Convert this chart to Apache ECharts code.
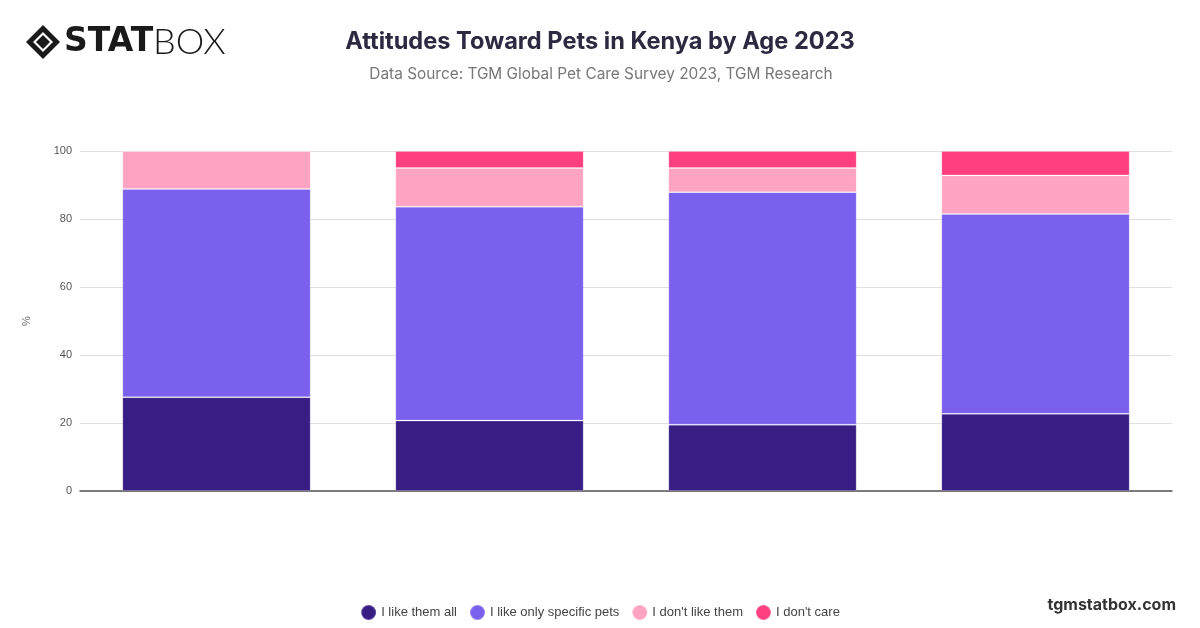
<!DOCTYPE html>
<html>
<head>
<meta charset="utf-8">
<script src="https://cdn.jsdelivr.net/npm/echarts@6/dist/echarts.min.js"></script>
<style>
html,body{margin:0;padding:0;background:#fff;}
#c{width:1200px;height:628px;}
</style>
</head>
<body>
<div id="c"></div>
<script>
const categories = ["18-24", "25-34", "35-44", "45+"];
const likeAll = [27.6, 20.7, 19.5, 22.7];
const likeSpecific = [61.2, 62.9, 68.4, 58.8];
const dontLike = [11.2, 11.4, 7.1, 11.3];
const dontCare = [0, 5.0, 5.0, 7.2];
const yTicks = [0, 20, 40, 60, 80, 100];

const seriesNames = ["I like them all", "I like only specific pets", "I don't like them", "I don't care"];
const colors = ["#381d85", "#7b5fed", "#ffa3c3", "#ff3f80"];
const seriesData = [likeAll, likeSpecific, dontLike, dontCare];

const chart = echarts.init(document.getElementById('c'));
chart.setOption({
  animation: false,
  color: colors,
  title: [
    {
      text: "Attitudes Toward Pets in Kenya by Age 2023",
      left: 595, top: 25, textAlign: 'center',
      textStyle: {fontFamily: 'Inter', fontSize: 23.6, fontWeight: 'bold', color: '#2c2941'}
    },
    {
      text: "Data Source: TGM Global Pet Care Survey 2023, TGM Research",
      left: 596, top: 62, textAlign: 'center',
      textStyle: {fontFamily: 'Inter', fontSize: 15.4, fontWeight: 'normal', color: '#777'}
    }
  ],
  graphic: [
    {
      type: 'group', left: 26, top: 24,
      children: [
        {type: 'polygon', shape: {points: [[17,0],[34,17],[17,34],[0,17]]}, style: {fill: '#1a1a1a'}},
        {type: 'polygon', shape: {points: [[17,7],[27,17],[17,27],[7,17]]}, style: {fill: '#fff'}},
        {type: 'polygon', shape: {points: [[17,10],[24,17],[17,24],[10,17]]}, style: {fill: '#1a1a1a'}},
        {type: 'text', left: 38, top: 1, style: {text: 'STAT', fontFamily: 'DejaVu Sans', fontWeight: 900, fontSize: 33, fill: '#1a1a1a'}},
        {type: 'text', left: 127, top: -1, style: {text: 'BOX', fontFamily: 'Lato', fontWeight: 300, fontSize: 36, fill: '#1a1a1a'}}
      ]
    },
    {
      type: 'text', right: 24, top: 597,
      style: {text: 'tgmstatbox.com', fontFamily: 'Inter', fontWeight: 'bold', fontSize: 16, fill: '#333'}
    }
  ],
  legend: {
    top: 599, left: 'center',
    icon: 'circle', itemWidth: 15, itemHeight: 15, itemGap: 12,
    textStyle: {fontFamily: 'Liberation Sans', fontSize: 13, color: '#444'},
    data: seriesNames
  },
  grid: {left: 80, right: 28, top: 151, bottom: 137},
  xAxis: {
    type: 'category', data: categories,
    axisLine: {lineStyle: {color: '#555', width: 1.5}},
    axisTick: {show: false},
    axisLabel: {show: false}
  },
  yAxis: {
    type: 'value', min: 0, max: 100, interval: 20,
    name: '%', nameLocation: 'middle', nameGap: 48, nameRotate: 90,
    nameTextStyle: {fontFamily: 'Liberation Sans', fontSize: 11, color: '#666'},
    axisLabel: {fontFamily: 'Liberation Sans', fontSize: 11, color: '#555', margin: 8,
      formatter: v => yTicks.includes(v) ? String(v) : ''},
    axisLine: {show: false}, axisTick: {show: false},
    splitLine: {lineStyle: {color: '#e0e0e0'}}
  },
  series: seriesNames.map((n, i) => ({
    name: n, type: 'bar', stack: 'total', barWidth: '69%',
    data: seriesData[i],
    itemStyle: {color: colors[i], borderColor: 'rgba(255,255,255,0.2)', borderWidth: 1}
  }))
});
</script>
</body>
</html>
